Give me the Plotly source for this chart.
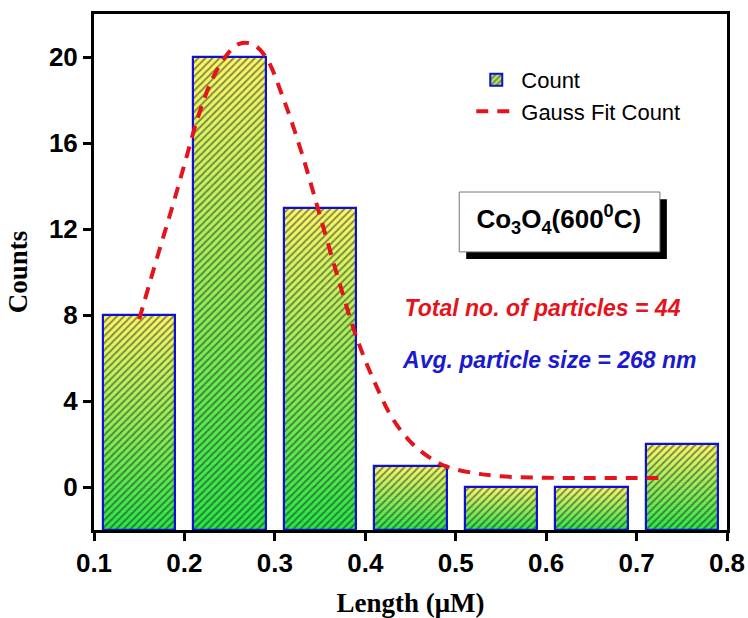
import plotly.graph_objects as go

# ---- data ----
bin_centers = [0.15, 0.25, 0.35, 0.45, 0.55, 0.65, 0.75]
counts = [8, 20, 13, 1, 0, 0, 2]
bar_base = -2

fit_x = [0.15, 0.17, 0.185, 0.20, 0.215, 0.23, 0.245, 0.26, 0.275, 0.29, 0.31, 0.33,
         0.35, 0.37, 0.39, 0.41, 0.43, 0.45, 0.47, 0.49, 0.52, 0.55, 0.60, 0.65, 0.70, 0.73]
fit_y = [7.8, 10.7, 12.8, 15.0, 17.2, 18.9, 20.0, 20.6, 20.6, 20.0, 18.0, 15.5,
         12.6, 9.7, 7.0, 4.9, 3.2, 2.1, 1.4, 0.95, 0.65, 0.5, 0.43, 0.42, 0.42, 0.42]

x_ticks = [0.1, 0.2, 0.3, 0.4, 0.5, 0.6, 0.7, 0.8]
y_ticks = [0, 4, 8, 12, 16, 20]

sample_label = "Co<sub>3</sub>O<sub>4</sub>(600<sup>0</sup>C)"
total_label = "Total no. of particles = 44"
avg_label = "Avg. particle size = 268 nm"

# ---- style ----
BAR_W = 0.08
N_SLICES = 36
TOP = (255, 250, 96)
BOT = (40, 232, 64)

fig = go.Figure()

heights = [c - bar_base for c in counts]
for k in range(N_SLICES):
    t = (k + 0.5) / N_SLICES
    col = tuple(int(round(BOT[i] + (TOP[i] - BOT[i]) * t)) for i in range(3))
    cs = "rgb(%d,%d,%d)" % col
    fig.add_trace(go.Bar(
        x=bin_centers,
        y=[h / N_SLICES for h in heights],
        base=[bar_base + k * h / N_SLICES for h in heights],
        width=BAR_W,
        marker=dict(color=cs, line=dict(color=cs, width=0.6)),
        showlegend=False, hoverinfo="skip",
    ))

# hatch overlay + outline
fig.add_trace(go.Bar(
    x=bin_centers, y=heights, base=[bar_base] * len(counts), width=BAR_W,
    marker=dict(color="rgba(0,0,0,0)",
                line=dict(color="#1010d4", width=2.2),
                pattern=dict(shape="/", fgcolor="#18183a", bgcolor="rgba(0,0,0,0)",
                             size=5, solidity=0.4)),
    customdata=counts, hovertemplate="%{x}: %{customdata}<extra></extra>",
    showlegend=False,
))

# legend proxy for bars
fig.add_trace(go.Bar(
    x=[None], y=[None], name="Count",
    marker=dict(color="#b8e85a", line=dict(color="#1010d4", width=2),
                pattern=dict(shape="/", fgcolor="#18183a", size=5, solidity=0.4,
                             fillmode="overlay")),
))

fig.add_trace(go.Scatter(
    x=fit_x, y=fit_y, mode="lines", name="Gauss Fit Count",
    line=dict(color="#e3141c", width=4, dash="12px,9px", shape="spline"),
))

# text labels (as text traces, anchored in data space)
fig.add_trace(go.Scatter(
    x=[0.614], y=[12.33], mode="text", text=[sample_label], textposition="middle center",
    textfont=dict(family="Arial, Liberation Sans", size=26, color="black", weight="bold"),
    showlegend=False, hoverinfo="skip", cliponaxis=False))
fig.add_trace(go.Scatter(
    x=[0.596], y=[8.2], mode="text", text=[total_label], textposition="middle center",
    textfont=dict(family="Arial, Liberation Sans", size=23, color="#e3141c",
                  weight="bold", style="italic"),
    showlegend=False, hoverinfo="skip", cliponaxis=False))
fig.add_trace(go.Scatter(
    x=[0.604], y=[5.8], mode="text", text=[avg_label], textposition="middle center",
    textfont=dict(family="Arial, Liberation Sans", size=23, color="#1a1ad0",
                  weight="bold", style="italic"),
    showlegend=False, hoverinfo="skip", cliponaxis=False))

tickfont = dict(family="Arial, Liberation Sans", size=26, color="black", weight="bold")
titlefont = dict(family="Times New Roman, Liberation Serif", size=27, color="black", weight="bold")

fig.update_layout(
    width=748, height=618,
    margin=dict(l=94, r=21, t=14, b=88),
    paper_bgcolor="white", plot_bgcolor="white",
    barmode="overlay", bargap=0,
    showlegend=True,
    legend=dict(x=0.596, y=0.913, xanchor="left", yanchor="top",
                font=dict(family="Arial, Liberation Sans", size=22, color="black"),
                bgcolor="rgba(0,0,0,0)", tracegroupgap=0, itemwidth=40),
    xaxis=dict(range=[0.1, 0.8], tickvals=x_ticks, ticktext=[str(v) for v in x_ticks],
               ticks="outside", ticklen=8, tickwidth=2.5, tickcolor="black",
               showline=True, linewidth=3, linecolor="black", mirror=True,
               showgrid=False, zeroline=False, tickfont=tickfont, automargin=False,
               title=dict(text="Length (μM)", font=titlefont, standoff=20)),
    yaxis=dict(range=[-2, 22], tickvals=y_ticks,
               ticks="outside", ticklen=8, tickwidth=2.5, tickcolor="black",
               showline=True, linewidth=3, linecolor="black", mirror=True,
               showgrid=False, zeroline=False, tickfont=tickfont, automargin=False,
               title=dict(text="Counts", font=titlefont, standoff=14)),
)

# label box with drop shadow
fig.add_shape(type="rect", xref="paper", yref="paper", x0=0.588, x1=0.905, y0=0.525, y1=0.641,
              fillcolor="black", line=dict(width=0), layer="below")
fig.add_shape(type="rect", xref="paper", yref="paper", x0=0.577, x1=0.894, y0=0.539, y1=0.655,
              fillcolor="white", line=dict(color="#777777", width=1), layer="below")

fig.write_html("out.html", config={"displayModeBar": False},
               post_script="document.body.style.margin='0';document.body.style.overflow='hidden';")
